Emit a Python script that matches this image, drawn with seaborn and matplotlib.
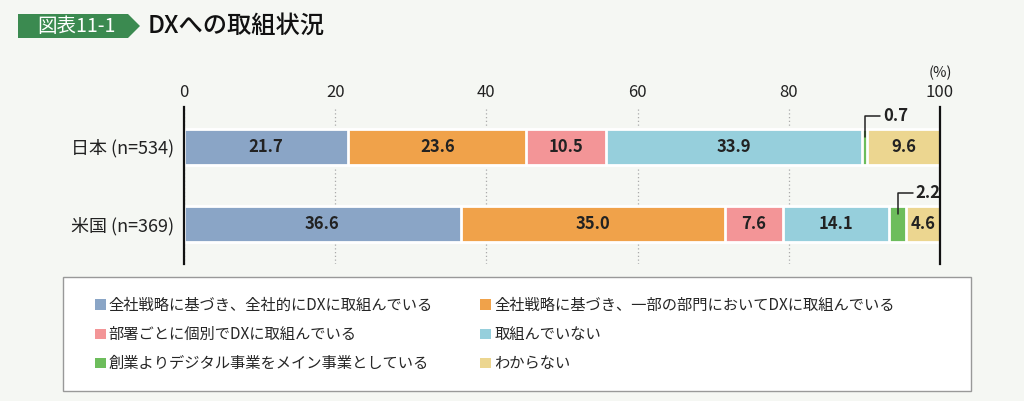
import numpy as np
import pandas as pd
import matplotlib.pyplot as plt
import matplotlib.transforms as mtransforms
from matplotlib.patches import Patch, Rectangle, Polygon
import seaborn as sns

# データ
countries = ['日本 (n=534)', '米国 (n=369)']
categories = [
    '全社戦略に基づき、全社的にDXに取組んでいる',
    '全社戦略に基づき、一部の部門においてDXに取組んでいる',
    '部署ごとに個別でDXに取組んでいる',
    '取組んでいない',
    '創業よりデジタル事業をメイン事業としている',
    'わからない',
]
japan = [21.7, 23.6, 10.5, 33.9, 0.7, 9.6]
usa = [36.6, 35.0, 7.6, 14.1, 2.2, 4.6]
colors = ['#8aa5c6', '#f0a24a', '#f39597', '#96cfdc', '#6dbd5c', '#ecd690']
xticks = [0, 20, 40, 60, 80, 100]

sns.set_style('white')
plt.rcParams['font.family'] = ['Noto Sans CJK JP', 'DejaVu Sans']

bg = '#f5f7f3'

rows = []
for country, vals in zip(countries, [japan, usa]):
    for cat, v, c in zip(categories, vals, np.cumsum(vals)):
        rows.append({'country': country, 'category': cat, 'value': v, 'cum': c})
df = pd.DataFrame(rows)

fig = plt.figure(figsize=(10.24, 4.01), dpi=100, facecolor=bg)
ax = fig.add_axes([184 / 1024, 1 - 264 / 401, 756 / 1024, 157 / 401])
ax.set_facecolor(bg)

# 積み上げ棒（累積値を後ろから重ねる）
for cat, col in reversed(list(zip(categories, colors))):
    sub = df[df['category'] == cat]
    sns.barplot(data=sub, x='cum', y='country', color=col, saturation=1,
                width=0.46, edgecolor='white', linewidth=2, errorbar=None, ax=ax)

ax.set_xlim(0, 100)
ax.set_ylim(1.51, -0.51)
ax.set_xlabel('')
ax.set_ylabel('')
ax.set_xticks(xticks)
ax.xaxis.tick_top()
ax.tick_params(axis='x', length=0, pad=4, labelsize=12, labelcolor='#222')
ax.tick_params(axis='y', length=0, pad=7, labelsize=13, labelcolor='#222')
ax.grid(axis='x', linestyle=(0, (1, 2)), color='#aaaaaa', linewidth=0.9)
ax.set_axisbelow(True)
for s in ['top', 'bottom']:
    ax.spines[s].set_visible(False)
for s in ['left', 'right']:
    ax.spines[s].set_color('#111')
    ax.spines[s].set_linewidth(1.6)
    ax.spines[s].set_zorder(5)

# 値ラベル
for _, r in df.iterrows():
    y = countries.index(r['country'])
    x = r['cum'] - r['value'] / 2
    if r['value'] >= 3:
        ax.text(x, y, f"{r['value']:.1f}", ha='center', va='center',
                fontsize=12, fontweight='bold', color='#222')
    else:
        ax.plot([x, x, x + 2.0], [y - 0.13, y - 0.40, y - 0.40],
                color='#222', lw=1.1, clip_on=False, zorder=6)
        ax.text(x + 2.4, y - 0.40, f"{r['value']:.1f}", ha='left', va='center',
                fontsize=12, fontweight='bold', color='#222')

trans = mtransforms.blended_transform_factory(ax.transData, ax.transAxes)
ax.text(100, 1.215, '(%)', transform=trans, ha='center', va='center',
        fontsize=10.5, color='#222')

# 凡例
fig.patches.append(Rectangle((63 / 1024, 1 - 391 / 401), 908 / 1024, 114 / 401,
                             transform=fig.transFigure, facecolor='white',
                             edgecolor='#999999', linewidth=1, zorder=0))
order = [0, 2, 4, 1, 3, 5]
handles = [Patch(facecolor=colors[i], edgecolor='none') for i in order]
labels = [categories[i] for i in order]
fig.legend(handles, labels, loc='upper left', bbox_to_anchor=(95 / 1024, 1 - 297 / 401),
           ncol=2, frameon=False, fontsize=11, handlelength=0.7, handleheight=0.7,
           handletextpad=0.2, columnspacing=3.1, labelspacing=0.8,
           borderpad=0, borderaxespad=0)

# タイトル
fig.patches.append(Polygon([(18 / 1024, 1 - 14 / 401), (128 / 1024, 1 - 14 / 401),
                            (140 / 1024, 1 - 26 / 401), (128 / 1024, 1 - 38 / 401),
                            (18 / 1024, 1 - 38 / 401)],
                           closed=True, transform=fig.transFigure,
                           facecolor='#3b8a50', edgecolor='none'))
fig.text(76 / 1024, 1 - 26 / 401, '図表11-1', ha='center', va='center',
         fontsize=14, color='white')
fig.text(148 / 1024, 1 - 26 / 401, 'DXへの取組状況', ha='left', va='center',
         fontsize=17.5, fontweight='medium', color='#111')

fig.savefig('out.png', dpi=100, facecolor=bg)
